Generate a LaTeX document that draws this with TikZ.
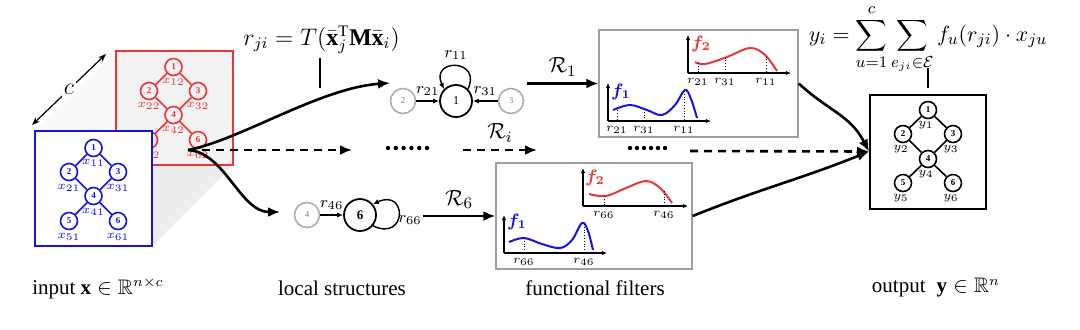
\documentclass[tikz,border=0pt]{standalone}
\usepackage{amsmath,amssymb}
\usepackage{fontspec}
\setmainfont{Liberation Serif}
\usetikzlibrary{arrows.meta}
\definecolor{gblue}{RGB}{20,20,225}
\definecolor{gred}{RGB}{232,55,55}
\begin{document}
\begin{tikzpicture}[x=0.5pt,y=0.5pt,
  gn/.style={circle, draw, line width=0.8pt, minimum size=8.5pt, inner sep=0pt, font=\fontsize{4.5}{5}\selectfont\bfseries},
  xl/.style={inner sep=0pt, font=\fontsize{6}{7}\selectfont},
  ge/.style={line width=0.8pt},
  gs/.style={circle, draw=gray!65, line width=0.8pt, minimum size=12.5pt, inner sep=0pt, text=gray, font=\fontsize{4.5}{5}\selectfont},
  bs/.style={circle, draw, line width=0.9pt, minimum size=16pt, inner sep=0pt, font=\fontsize{6}{6}\selectfont},
  sa/.style={line width=0.7pt, -{Latex[length=3pt,width=2.6pt]}},
  rl/.style={font=\fontsize{8}{9}\selectfont, inner sep=1pt},
  ma/.style={line width=1.3pt, -{Latex[length=6pt,width=5pt]}},
  da/.style={ma, dash pattern=on 4pt off 3pt},
  fbox/.style={draw=gray!75, line width=0.7pt, inner sep=0pt},
  ax/.style={line width=0.6pt, -{Latex[length=2.5pt,width=2.2pt]}},
  dt/.style={densely dotted, line width=0.4pt},
  fl/.style={font=\fontsize{6.5}{7}\selectfont, inner sep=0pt},
  Rl/.style={font=\fontsize{11}{12}\selectfont, inner sep=0pt},
  bl/.style={font=\fontsize{10.5}{12}\selectfont, inner sep=0pt},
  fc/.style={line width=1pt}
]
\useasboundingbox (0,0) rectangle (1080,-329);

% ---------- input prism ----------
\fill[gray!5] (35,-131) -- (116,-51) -- (233,-51) -- (152,-131) -- cycle;
\fill[gray!14] (152,-131) -- (233,-51) -- (233,-165) -- (152,-246) -- cycle;
\fill[gray!10] (116,-51) rectangle (233,-165);
\draw[gred, line width=1pt] (116,-51) rectangle (233,-165);

\draw[{Stealth[length=4pt]}-{Stealth[length=4pt]}, line width=0.6pt] (32,-125) -- node[fill=white, inner sep=1pt, font=\fontsize{12}{12}\selectfont] (clab) {$c$} (106,-54);

% red graph
\begin{scope}[gred]
\node[gn] (r1) at (173.5,-67) {1};
\node[gn] (r2) at (149,-91) {2};
\node[gn] (r3) at (198,-91) {3};
\node[gn] (r4) at (173.5,-115) {4};
\node[gn] (r5) at (149,-140) {5};
\node[gn] (r6) at (198,-140) {6};
\draw[ge] (r1)--(r2) (r1)--(r3) (r2)--(r4) (r3)--(r4) (r4)--(r5) (r4)--(r6);
\node[xl, text=gred] (rx1) at (173.5,-82) {$x_{12}$};
\node[xl, text=gred] (rx2) at (149,-106) {$x_{22}$};
\node[xl, text=gred] (rx3) at (198,-106) {$x_{32}$};
\node[xl, text=gred] (rx4) at (173.5,-130) {$x_{42}$};
\node[xl, text=gred] (rx5) at (149,-155) {$x_{52}$};
\node[xl, text=gred] (rx6) at (198,-155) {$x_{62}$};
\end{scope}

% blue square + graph
\draw[gblue, line width=1.2pt, fill=white] (35,-131) rectangle (152,-246);
\begin{scope}[gblue]
\node[gn] (b1) at (93.5,-148) {1};
\node[gn] (b2) at (69,-172) {2};
\node[gn] (b3) at (118,-172) {3};
\node[gn] (b4) at (93.5,-196) {4};
\node[gn] (b5) at (69,-221) {5};
\node[gn] (b6) at (118,-221) {6};
\draw[ge] (b1)--(b2) (b1)--(b3) (b2)--(b4) (b3)--(b4) (b4)--(b5) (b4)--(b6);
\node[xl, text=gblue] (bx1) at (93.5,-163) {$x_{11}$};
\node[xl, text=gblue] (bx2) at (69,-188) {$x_{21}$};
\node[xl, text=gblue] (bx3) at (118,-188) {$x_{31}$};
\node[xl, text=gblue] (bx4) at (93.5,-212) {$x_{41}$};
\node[xl, text=gblue] (bx5) at (69,-237) {$x_{51}$};
\node[xl, text=gblue] (bx6) at (118,-237) {$x_{61}$};
\end{scope}

% ---------- formulas ----------
\node[font=\fontsize{12}{14}\selectfont, anchor=base] (rf) at (321.5,-45) {$r_{ji} = T(\bar{\mathbf{x}}_j^{\mathrm{T}}\mathbf{M}\bar{\mathbf{x}}_i)$};
\coordinate (rt1) at (320,-58);
\coordinate (rt2) at (320,-88);
\draw[line width=0.6pt] (rt1) -- (rt2);

\node[font=\fontsize{11}{13}\selectfont, anchor=base] (yf) at (928,-41) {$\displaystyle y_i = \sum_{u=1}^{c}\sum_{e_{ji}\in\mathcal{E}} f_u(r_{ji})\cdot x_{ju}$};
\coordinate (yt1) at (928,-68);
\coordinate (yt2) at (928,-88);
\draw[line width=0.6pt] (yt1) -- (yt2);

% ---------- main connectors ----------
\coordinate (src) at (188,-150);
\coordinate (upend) at (390,-83);
\coordinate (loend) at (280,-212);
\coordinate (d1e) at (352,-150);
\coordinate (d2s) at (463,-150);
\coordinate (d2e) at (537,-150);
\coordinate (d3s) at (690,-151);
\draw[ma] (src) .. controls (240,-140) and (320,-88) .. (upend);
\draw[ma] (src) .. controls (225,-152) and (240,-212) .. (loend);
\draw[da] (src) -- (d1e);
\draw[da] (d2s) -- (d2e);
\foreach \i in {0,...,5} \fill (388+\i*7.8,-148) circle (1.1pt);
\foreach \i in {0,...,5} \fill (630+\i*7,-148) circle (1.1pt);
\node[Rl] (Ri) at (500,-133) {$\mathcal{R}_i$};

% ---------- local structure 1 ----------
\node[gs] (a2) at (403,-101) {2};
\node[bs] (a1) at (456,-101) {1};
\node[gs] (a3) at (511,-101) {3};
\draw[sa] (a2) -- node[above=1.5pt, rl] (l21) {$r_{21}$} (a1);
\draw[sa] (a3) -- node[above=1.5pt, rl] (l31) {$r_{31}$} (a1);
\draw[sa] (a1.45) .. controls +(65:34) and +(115:34) .. (a1.135);
\node[rl] (l11) at (456,-55) {$r_{11}$};

% ---------- local structure 6 ----------
\node[gs] (c4) at (307,-215) {4};
\node[bs, font=\fontsize{6.5}{7}\selectfont\bfseries] (c6) at (360,-215) {6};
\draw[sa] (c4) -- node[above=1.5pt, rl] (l46) {$r_{46}$} (c6);
\draw[sa] (c6.-40) .. controls +(-25:38) and +(25:38) .. (c6.40);
\node[rl] (l66) at (410,-220) {$r_{66}$};

% ---------- filter boxes ----------
\node[fbox, minimum width=99.5pt, minimum height=53.5pt] (F1) at (698.5,-83.5) {};
\node[fbox, minimum width=98pt, minimum height=53pt] (F2) at (594,-216) {};

\coordinate (R1s) at (527,-83.5);
\draw[ma] (R1s) -- node[above=3pt, Rl] (R1l) {$\mathcal{R}_1$} (F1.west);
\coordinate (R6s) at (423,-216);
\draw[ma] (R6s) -- node[above=3pt, Rl] (R6l) {$\mathcal{R}_6$} (F2.west);

% box 1 : f1
\coordinate (o11) at (608,-121);
\draw[ax] (o11) -- (608,-83);
\draw[ax] (o11) -- (711,-121);
\draw[gblue, fc] plot[smooth, tension=0.6] coordinates {(613,-110) (630,-105) (647,-110) (662,-115) (675,-105) (685,-90) (691,-99) (697,-118)};
\draw[dt] (617,-107.5) -- (617,-121);
\draw[dt] (644,-109) -- (644,-121);
\draw[dt] (684,-91) -- (684,-121);
\node[fl] (t1a) at (617,-130) {$r_{21}$};
\node[fl] (t1b) at (644,-130) {$r_{31}$};
\node[fl] (t1c) at (684,-130) {$r_{11}$};
\node[text=gblue, font=\fontsize{9}{9}\selectfont, inner sep=0pt] (f1a) at (621,-92) {$\boldsymbol{f_1}$};
% box 1 : f2
\coordinate (o12) at (688,-73);
\draw[ax] (o12) -- (688,-35);
\draw[ax] (o12) -- (791,-73);
\draw[gred, fc] plot[smooth, tension=0.6] coordinates {(695,-62) (705,-64) (727,-57) (750,-48) (765,-55) (777,-71)};
\draw[dt] (698,-63) -- (698,-73);
\draw[dt] (725,-57.5) -- (725,-73);
\draw[dt] (766,-56.5) -- (766,-73);
\node[fl] (t2a) at (698,-82) {$r_{21}$};
\node[fl] (t2b) at (725,-82) {$r_{31}$};
\node[fl] (t2c) at (766,-82) {$r_{11}$};
\node[text=gred, font=\fontsize{9}{9}\selectfont, inner sep=0pt] (f2a) at (701,-44) {$\boldsymbol{f_2}$};

% box 2 : f1
\coordinate (o21) at (504,-253);
\draw[ax] (o21) -- (504,-215);
\draw[ax] (o21) -- (607,-253);
\draw[gblue, fc] plot[smooth, tension=0.6] coordinates {(509,-242) (524,-238) (542,-244) (560,-248) (572,-240) (582,-223) (588,-231) (593,-250)};
\draw[dt] (524,-238) -- (524,-253);
\draw[dt] (584,-224) -- (584,-253);
\node[fl] (t3a) at (524,-262) {$r_{66}$};
\node[fl] (t3b) at (584,-262) {$r_{46}$};
\node[text=gblue, font=\fontsize{9}{9}\selectfont, inner sep=0pt] (f1b) at (517,-222) {$\boldsymbol{f_1}$};
% box 2 : f2
\coordinate (o22) at (583,-206);
\draw[ax] (o22) -- (583,-168);
\draw[ax] (o22) -- (688,-206);
\draw[gred, fc] plot[smooth, tension=0.6] coordinates {(589,-194) (606,-196) (626,-188) (646,-181) (660,-188) (672,-203)};
\draw[dt] (604,-196) -- (604,-206);
\draw[dt] (664,-191) -- (664,-206);
\node[fl] (t4a) at (604,-215) {$r_{66}$};
\node[fl] (t4b) at (664,-215) {$r_{46}$};
\node[text=gred, font=\fontsize{9}{9}\selectfont, inner sep=0pt] (f2b) at (595,-178) {$\boldsymbol{f_2}$};

% ---------- output ----------
\node[draw, line width=1pt, minimum width=58pt, minimum height=57pt, inner sep=0pt] (O) at (928,-151.5) {};
\node[gn] (o1) at (928,-110) {1};
\node[gn] (o2) at (903,-134) {2};
\node[gn] (o3) at (953,-134) {3};
\node[gn] (o4) at (928,-159) {4};
\node[gn] (o5) at (903,-183) {5};
\node[gn] (o6) at (953,-183) {6};
\draw[ge] (o1)--(o2) (o1)--(o3) (o2)--(o4) (o3)--(o4) (o4)--(o5) (o4)--(o6);
\node[xl] (y1) at (926,-125) {$y_1$};
\node[xl] (y2) at (901,-149) {$y_2$};
\node[xl] (y3) at (951,-149) {$y_3$};
\node[xl] (y4) at (926,-174) {$y_4$};
\node[xl] (y5) at (901,-198) {$y_5$};
\node[xl] (y6) at (951,-198) {$y_6$};

\draw[da] (d3s) -- (O.west);
\draw[ma] (F1.east) .. controls (830,-112) and (850,-115) .. (O.west);
\draw[ma] (F2.east) to[out=22, in=202] (O.west);

% ---------- bottom labels ----------
\node[bl] (lin) at (98,-288) {input $\mathbf{x}\in\mathbb{R}^{n\times c}$};
\node[bl] (lls) at (342,-288) {local structures};
\node[bl] (lff) at (595,-288) {functional filters};
\node[bl] (lout) at (936,-288) {output\; $\mathbf{y}\in\mathbb{R}^{n}$};
\end{tikzpicture}
\end{document}
